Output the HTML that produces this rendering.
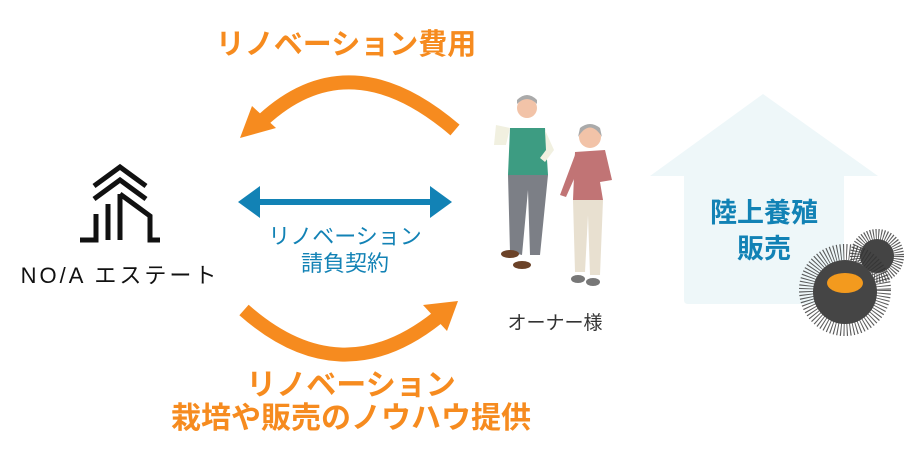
<!DOCTYPE html>
<html><head><meta charset="utf-8"><style>
html,body{margin:0;padding:0;background:#fff;}
body{width:910px;height:466px;position:relative;overflow:hidden;font-family:"Liberation Sans","Noto Sans CJK JP",sans-serif;}
.t{position:absolute;white-space:nowrap;text-align:center;}
.o{color:#f68b1f;font-weight:bold;font-size:29px;}
.b{color:#1282b5;font-size:22px;line-height:27px;}
</style></head><body>
<svg width="910" height="466" style="position:absolute;left:0;top:0">
<!-- house -->
<path d="M763,94 L878,176 L844,176 L844,300 Q844,304 840,304 L688,304 Q684,304 684,300 L684,176 L650,176 Z" fill="#eef7f9"/>
<!-- arcs -->
<path d="M455,130 Q350,40 263,120" fill="none" stroke="#f68b1f" stroke-width="14"/>
<path d="M240,138 L252,106 L276,128 Z" fill="#f68b1f"/>
<path d="M244,310 Q340,395 437,318" fill="none" stroke="#f68b1f" stroke-width="14"/>
<path d="M458,301 L423,305 L447,331 Z" fill="#f68b1f"/>
<!-- blue arrow -->
<line x1="256" y1="202" x2="434" y2="202" stroke="#1282b5" stroke-width="6"/>
<path d="M238,202 L260,186 L260,218 Z" fill="#1282b5"/>
<path d="M452,202 L430,186 L430,218 Z" fill="#1282b5"/>
<!-- logo -->
<g fill="none" stroke="#111" stroke-width="5">
<path d="M94,186 L120,167 L146,186"/>
<path d="M94,199 L120,180 L146,199"/>
<path d="M120,194 L150,216 L150,240 L160,240"/>
<path d="M120,194 L120,240"/>
<path d="M108,204 L108,240"/>
<path d="M96,214 L96,240 L80,240"/>
</g>
<!-- people (rough) -->
<circle cx="527" cy="108" r="10" fill="#f2c3a8"/>
<path d="M517,104 Q527,94 537,104 L537,100 Q527,90 517,100Z" fill="#aaa"/>
<path d="M510,128 L545,128 L548,175 L508,175 Z" fill="#3d9c82"/>
<path d="M496,125 L510,128 L506,145 L494,145Z" fill="#f1f0e0"/>
<path d="M545,130 L554,150 L545,162 L540,158 L546,150Z" fill="#f1f0e0"/>
<path d="M508,175 L548,175 L540,255 L530,255 L528,190 L522,255 L510,252 Z" fill="#7c7f86"/>
<ellipse cx="510" cy="254" rx="9" ry="4" fill="#6b4228"/>
<ellipse cx="522" cy="265" rx="9" ry="4" fill="#6b4228"/>
<circle cx="590" cy="137" r="11" fill="#f2c3a8"/>
<path d="M578,137 Q590,118 602,137 L600,128 Q590,120 580,128Z" fill="#aaa"/>
<path d="M575,152 L605,150 L612,180 L600,182 L603,200 L573,200 Z" fill="#c17475"/>
<path d="M575,155 L560,195 L566,197 L578,170Z" fill="#c17475"/>
<path d="M573,200 L603,200 L600,275 L590,275 L588,215 L585,272 L575,272 Z" fill="#e8e0d0"/>
<ellipse cx="578" cy="279" rx="7" ry="4" fill="#777"/>
<ellipse cx="593" cy="282" rx="7" ry="4" fill="#777"/>
<!-- urchins -->
<circle cx="877" cy="256" r="21" fill="none" stroke="#333" stroke-width="12" stroke-dasharray="1 1.5" opacity="0.8"/>
<circle cx="877" cy="256" r="17" fill="#444"/>
<circle cx="845" cy="290" r="38" fill="none" stroke="#333" stroke-width="16" stroke-dasharray="1 2" opacity="0.8"/>
<circle cx="845" cy="292" r="32" fill="#454545"/>
<ellipse cx="845" cy="283" rx="18" ry="10" fill="#f39a1e"/>
</svg>
<div class="t o" style="left:196px;top:28px;width:300px;line-height:34px">リノベーション費用</div>
<div class="t b" style="left:245px;top:223px;width:200px">リノベーション<br>請負契約</div>
<div class="t o" style="left:151px;top:369px;width:400px;line-height:33px;font-size:30px">リノベーション<br>栽培や販売のノウハウ提供</div>
<div class="t" style="left:10px;top:258px;width:220px;font-size:22px;letter-spacing:3px;color:#111">NO/A エステート</div>
<div class="t" style="left:490px;top:308px;width:130px;font-size:19px;color:#333">オーナー様</div>
<div class="t" style="left:664px;top:195px;width:200px;font-size:27px;font-weight:bold;color:#1282b5;line-height:36px">陸上養殖<br>販売</div>
</body></html>
